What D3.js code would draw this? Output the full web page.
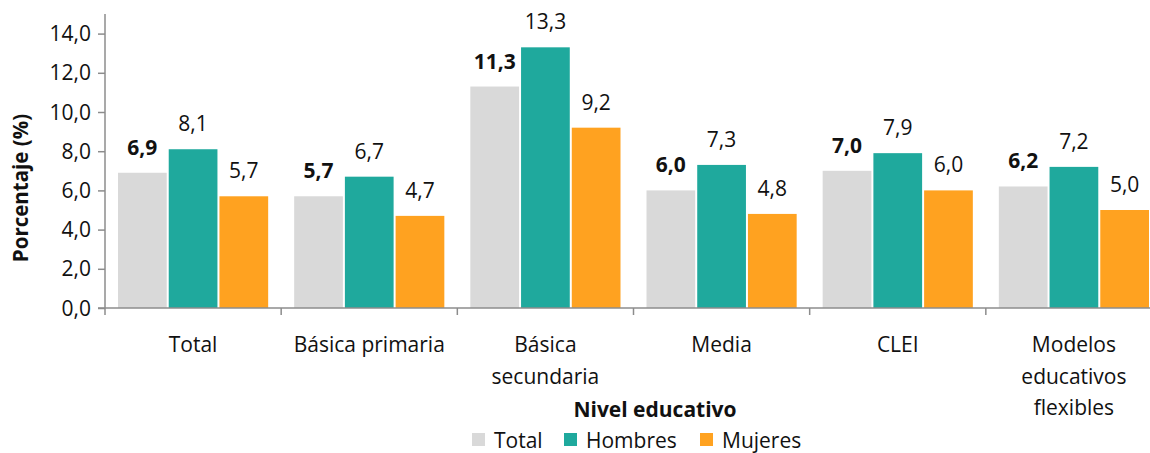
<!DOCTYPE html>
<html>
<head>
<meta charset="utf-8">
<script src="https://cdn.jsdelivr.net/npm/d3@7"></script>
<style>
  body { margin: 0; background: #fff; }
  text { font-family: "Open Sans", "Noto Sans", sans-serif; fill: #111; }
</style>
</head>
<body>
<div id="chart"></div>
<script>
// categories, series and values
var categories = [["Total"], ["Básica primaria"], ["Básica", "secundaria"], ["Media"], ["CLEI"], ["Modelos", "educativos", "flexibles"]];
var series = ["Total", "Hombres", "Mujeres"];
var colors = ["#d9d9d9", "#1fa99d", "#ffa220"];
var totalVals = [6.9, 5.7, 11.3, 6.0, 7.0, 6.2];
var hombresVals = [8.1, 6.7, 13.3, 7.3, 7.9, 7.2];
var mujeresVals = [5.7, 4.7, 9.2, 4.8, 6.0, 5.0];
var yTicks = [0, 2, 4, 6, 8, 10, 12, 14];

var values = [totalVals, hombresVals, mujeresVals];
var width = 1150, height = 453;
var fs = "21px";

var svg = d3.select("#chart").append("svg")
  .attr("width", width)
  .attr("height", height);

// plot area (right edge runs off the picture like the original)
var x0 = d3.scaleBand().domain(d3.range(categories.length)).range([105, 1162]).paddingInner(0).paddingOuter(0);
var x1 = d3.scaleBand().domain(d3.range(series.length)).range([12, x0.bandwidth() - 12]).padding(0);
var y = d3.scaleLinear().domain([0, 15]).range([308, 14]);

var fmt = function(v) { return d3.format(".1f")(v).replace(".", ","); };

// bars
var group = svg.selectAll(".grp")
  .data(categories)
  .enter().append("g")
  .attr("class", "grp")
  .attr("transform", function(d, i) { return "translate(" + x0(i) + ",0)"; });

series.forEach(function(s, k) {
  group.append("rect")
    .attr("x", x1(k) + 1)
    .attr("y", function(d, i) { return y(values[k][i]); })
    .attr("width", x1.bandwidth() - 2)
    .attr("height", function(d, i) { return y(0) - y(values[k][i]); })
    .attr("fill", colors[k]);

  group.append("text")
    .attr("x", x1(k) + x1.bandwidth() / 2)
    .attr("y", function(d, i) { return y(values[k][i]) - 18; })
    .attr("text-anchor", "middle")
    .style("font-size", fs)
    .style("font-weight", k == 0 ? "bold" : "normal")
    .text(function(d, i) { return fmt(values[k][i]); });
});

// y axis
var yAxis = svg.append("g")
  .attr("transform", "translate(105,0)")
  .call(d3.axisLeft(y).tickValues(yTicks).tickSize(7).tickPadding(7).tickFormat(fmt));
yAxis.select(".domain").attr("stroke", "#8c8c8c").attr("stroke-width", 1.5).attr("d", "M0,14V308");
yAxis.selectAll(".tick line").attr("stroke", "#8c8c8c").attr("stroke-width", 1.5);
yAxis.selectAll(".tick text").style("font-size", fs).attr("fill", "#111").attr("dy", "0.34em");

// x axis
var xAxis = svg.append("g")
  .attr("transform", "translate(0,308)");
xAxis.append("line")
  .attr("x1", 98).attr("x2", width)
  .attr("stroke", "#8c8c8c").attr("stroke-width", 1.5);
xAxis.selectAll(".xtick")
  .data(d3.range(categories.length + 1))
  .enter().append("line")
  .attr("x1", function(i) { return 105 + i * x0.bandwidth(); })
  .attr("x2", function(i) { return 105 + i * x0.bandwidth(); })
  .attr("y1", 0).attr("y2", 7)
  .attr("stroke", "#8c8c8c").attr("stroke-width", 1.5);

var catLabel = svg.selectAll(".cat")
  .data(categories)
  .enter().append("text")
  .attr("class", "cat")
  .attr("text-anchor", "middle")
  .style("font-size", fs)
  .attr("transform", function(d, i) { return "translate(" + (x0(i) + x0.bandwidth() / 2) + ",352)"; });
catLabel.selectAll("tspan")
  .data(function(d) { return d; })
  .enter().append("tspan")
  .attr("x", 0)
  .attr("y", function(d, j) { return j * 31.5; })
  .text(function(d) { return d; });

// axis titles
svg.append("text")
  .attr("transform", "translate(28,188)rotate(-90)")
  .attr("text-anchor", "middle")
  .style("font-size", "20.5px")
  .style("font-weight", "bold")
  .text("Porcentaje (%)");

svg.append("text")
  .attr("x", 655)
  .attr("y", 417)
  .attr("text-anchor", "middle")
  .style("font-size", fs)
  .style("font-weight", "bold")
  .text("Nivel educativo");

// legend
var legendX = [472, 564, 700];
var legend = svg.selectAll(".leg")
  .data(series)
  .enter().append("g")
  .attr("class", "leg")
  .attr("transform", function(d, i) { return "translate(" + legendX[i] + ",433)"; });
legend.append("rect")
  .attr("width", 13).attr("height", 13)
  .attr("fill", function(d, i) { return colors[i]; });
legend.append("text")
  .attr("x", 22)
  .attr("y", 15)
  .style("font-size", fs)
  .text(function(d) { return d; });
</script>
</body>
</html>
